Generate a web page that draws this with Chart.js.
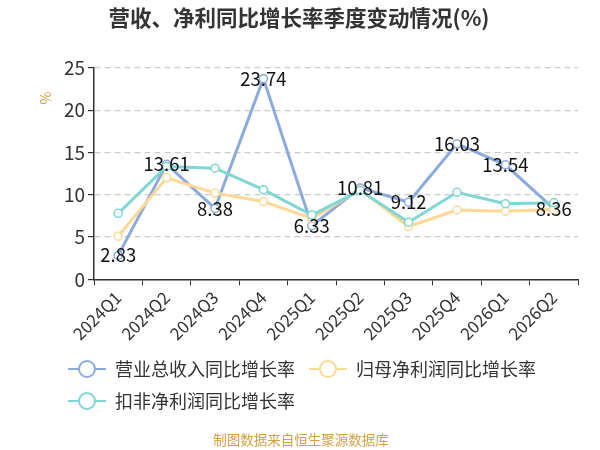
<!DOCTYPE html>
<html>
<head>
<meta charset="utf-8">
<script src="https://cdn.jsdelivr.net/npm/chart.js@4.4.1/dist/chart.umd.min.js"></script>
<style>
  html, body { margin: 0; padding: 0; background: #fff; }
  #wrap { width: 600px; height: 450px; position: relative; }
</style>
</head>
<body>
<div id="wrap"><canvas id="myChart"></canvas></div>
<script>
const quarters = ['2024Q1', '2024Q2', '2024Q3', '2024Q4', '2025Q1', '2025Q2', '2025Q3', '2025Q4', '2026Q1', '2026Q2'];
const revenueGrowth = [2.83, 13.61, 8.38, 23.74, 6.33, 10.81, 9.12, 16.03, 13.54, 8.36];
const netProfitGrowth = [5.1, 12.0, 10.2, 9.2, 7.2, 10.6, 6.25, 8.2, 8.05, 8.25];
const deductedProfitGrowth = [7.8, 13.35, 13.15, 10.6, 7.6, 10.5, 6.75, 10.3, 8.95, 9.05];
const yTicks = [0, 5, 10, 15, 20, 25];

const FONT = '"Noto Sans CJK SC", "Noto Sans", sans-serif';
const blue = '#8cabdc';
const orange = '#fed897';
const teal = '#7fd6d2';

// legend marker: short line with an open circle
function legendMark(color) {
    const c = document.createElement('canvas');
    const r = window.devicePixelRatio || 1;
    c.width = 38 * r;
    c.height = 20 * r;
    c.style.width = '38px';
    c.style.height = '20px';
    const ctx = c.getContext('2d');
    ctx.scale(r, r);
    ctx.strokeStyle = color;
    ctx.lineWidth = 2;
    ctx.beginPath();
    ctx.moveTo(0, 10);
    ctx.lineTo(38, 10);
    ctx.stroke();
    ctx.beginPath();
    ctx.arc(19, 10, 8, 0, Math.PI * 2);
    ctx.fillStyle = '#fff';
    ctx.fill();
    ctx.stroke();
    return c;
}
const marks = [legendMark(blue), legendMark(orange), legendMark(teal)];

const extras = {
    id: 'extras',
    afterDatasetsDraw(chart) {
        const ctx = chart.ctx;
        const meta = chart.getDatasetMeta(0);
        ctx.save();
        ctx.font = '18.5px ' + FONT;
        ctx.fillStyle = '#111';
        ctx.textAlign = 'center';
        ctx.textBaseline = 'middle';
        meta.data.forEach((pt, i) => {
            ctx.fillText(revenueGrowth[i].toFixed(2), pt.x, pt.y);
        });
        ctx.restore();
    },
    afterDraw(chart) {
        const ctx = chart.ctx;
        ctx.save();
        ctx.textAlign = 'center';
        ctx.textBaseline = 'middle';
        // title
        ctx.font = 'bold 21.5px ' + FONT;
        ctx.fillStyle = '#333';
        ctx.fillText('营收、净利同比增长率季度变动情况(%)', 299, 18);
        // source note
        ctx.font = '13.5px ' + FONT;
        ctx.fillStyle = '#d4a046';
        ctx.fillText('制图数据来自恒生聚源数据库', 301, 440);
        // y unit
        ctx.font = '14px ' + FONT;
        ctx.translate(46, 98);
        ctx.rotate(-Math.PI / 2);
        ctx.fillText('%', 0, 0);
        ctx.restore();
    }
};

const makeSet = (label, data, color, order) => ({
    label: label,
    data: data,
    order: order,
    borderColor: color,
    backgroundColor: '#fff',
    borderWidth: 3,
    pointRadius: 4,
    pointBorderWidth: 1.5,
    pointBackgroundColor: '#fff',
    pointBorderColor: color,
    pointStyle: 'circle',
    tension: 0
});

const config = {
    type: 'line',
    data: {
        labels: quarters,
        datasets: [
            makeSet('营业总收入同比增长率', revenueGrowth, blue, 2),
            makeSet('归母净利润同比增长率', netProfitGrowth, orange, 1),
            makeSet('扣非净利润同比增长率', deductedProfitGrowth, teal, 0)
        ]
    },
    options: {
        responsive: true,
        maintainAspectRatio: false,
        animation: false,
        layout: { padding: { left: 54, right: 22, top: 68, bottom: 30 } },
        plugins: {
            title: { display: false },
            legend: {
                position: 'bottom',
                align: 'start',
                labels: {
                    usePointStyle: true,
                    pointStyleWidth: 38,
                    color: '#333',
                    font: { family: FONT, size: 18 },
                    padding: 14,
                    sort: (a, b) => a.datasetIndex - b.datasetIndex,
                    generateLabels(chart) {
                        const items = Chart.defaults.plugins.legend.labels.generateLabels(chart);
                        items.forEach(it => { it.pointStyle = marks[it.datasetIndex]; });
                        return items;
                    }
                }
            },
            tooltip: { enabled: false }
        },
        scales: {
            x: {
                offset: true,
                grid: { display: true, drawOnChartArea: false, offset: true, color: '#333', tickLength: 6 },
                border: { color: '#333', width: 1.5 },
                ticks: {
                    color: '#333',
                    font: { family: FONT, size: 17 },
                    maxRotation: 45,
                    minRotation: 45,
                    padding: 2
                }
            },
            y: {
                min: 0,
                max: 25,
                afterBuildTicks(axis) {
                    axis.ticks = yTicks.map(v => ({ value: v }));
                },
                afterFit(axis) {
                    axis.width = 40;
                },
                grid: { color: '#cccccc', lineWidth: 1.2, tickLength: 6, tickColor: '#333' },
                border: { color: '#333', width: 1.5, dash: [6, 4] },
                ticks: { color: '#333', font: { family: FONT, size: 19 }, padding: 3 }
            }
        }
    },
    plugins: [extras]
};

const myChart = new Chart(document.getElementById('myChart'), config);
</script>
</body>
</html>
